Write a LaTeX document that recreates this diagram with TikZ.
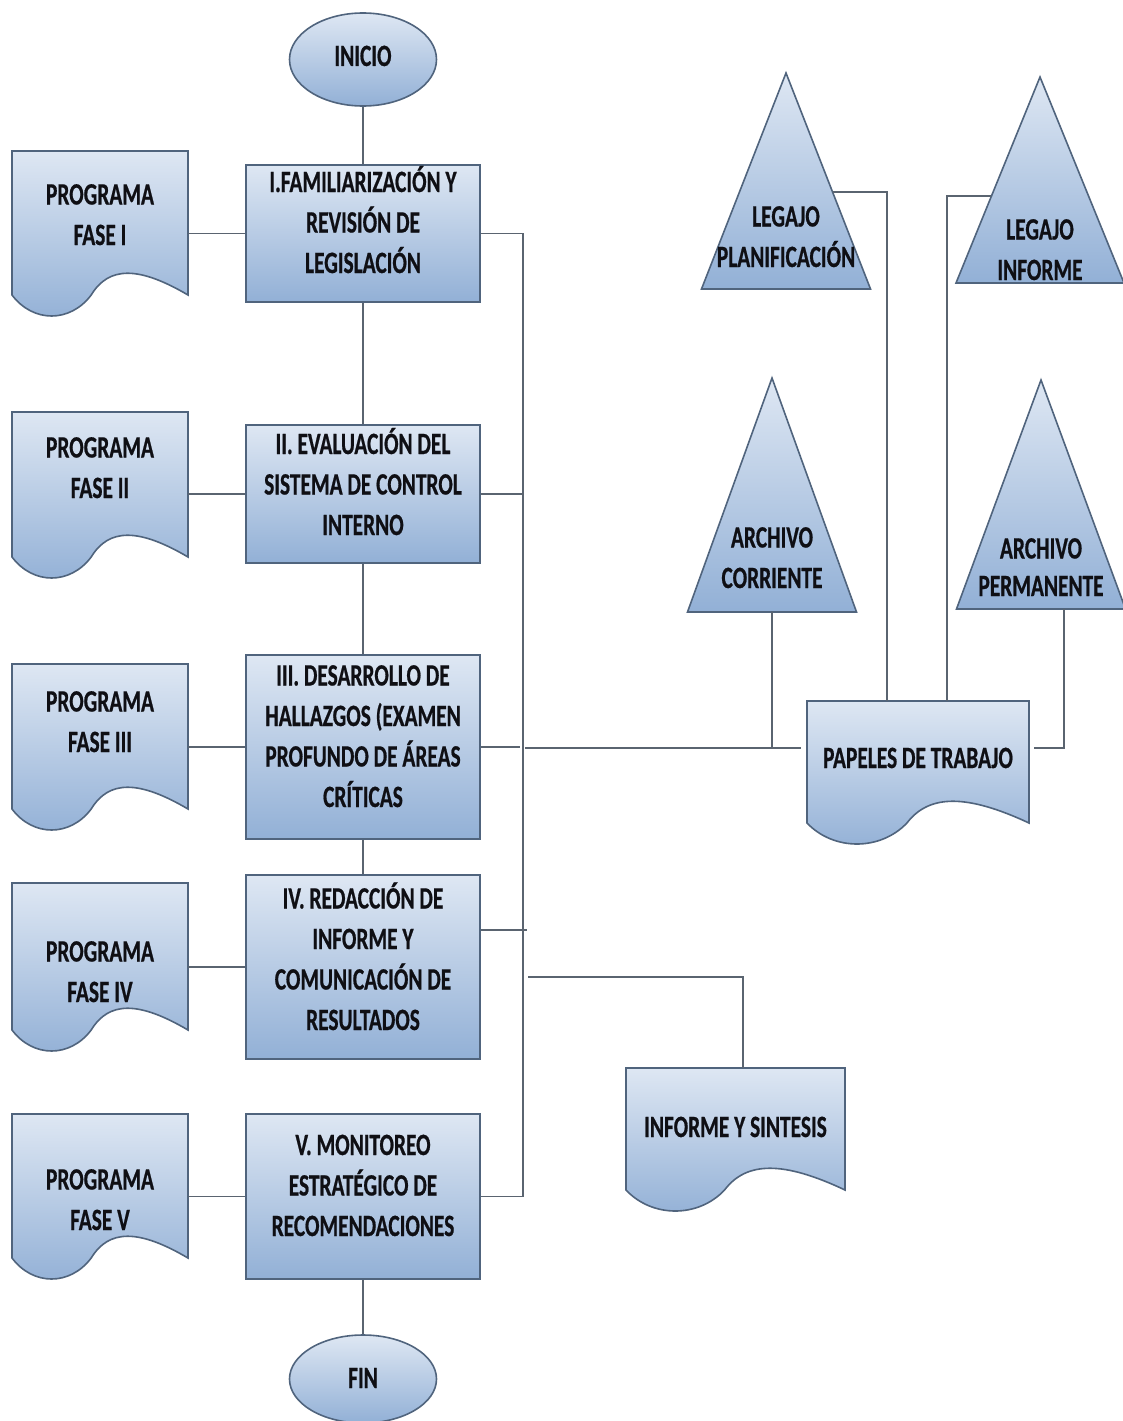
\documentclass[tikz,border=0pt]{standalone}
\usepackage{fontspec}
\newfontfamily\dfont{Carlito}[FakeStretch=0.69, FakeBold=0.6]
\usetikzlibrary{shapes.geometric,calc}
\definecolor{topc}{RGB}{222,231,243}
\definecolor{botc}{RGB}{146,176,214}
\definecolor{bordc}{RGB}{80,100,125}
\definecolor{linec}{RGB}{90,100,112}
\definecolor{txtc}{RGB}{15,15,20}
\newcommand\lns[1]{\begin{tabular}[b]{@{}c@{}}#1\end{tabular}}
\newcommand\docshape[7]{%
  \path[blueshade] (#2,-#3) -- (#4,-#3) -- (#4,-#5)
    .. controls ({#2+0.72*(#4-#2)},{-#5+29}) and ({#2+0.55*(#4-#2)},{-#5+29}) .. ({#2+0.45*(#4-#2)},-#5)
    .. controls ({#2+0.33*(#4-#2)},{-#5-28}) and ({#2+0.12*(#4-#2)},{-#5-28}) .. (#2,-#5) -- cycle;
  \node[anchor=north west, minimum width={#4-#2}, minimum height={#5-#3}, inner sep=0pt] (#1) at (#2,-#3) {};
  \node[txt, anchor=base] (#1t) at ({(#2+#4)/2},-#6) {\lns{#7}};
}
\newcommand\trishape[7]{%
  \path[blueshade] (#2,-#3) -- ({#2+#4},-#5) -- ({#2-#4},-#5) -- cycle;
  \coordinate (#1) at (#2,-#5);
  \node[txt, anchor=base] (#1t) at (#2,-#6) {\lns{#7}};
}
\tikzset{
  x=1pt, y=1pt,
  blueshade/.style={top color=topc, bottom color=botc, draw=bordc, line width=1.6pt},
  procbox/.style={blueshade, rectangle, minimum width=234pt, inner sep=0pt},
  term/.style={blueshade, ellipse, minimum width=147pt, inner sep=0pt},
  txt/.style={font=\dfont\bfseries\fontsize{31}{40.5}\selectfont, text=txtc, inner sep=0pt},
  conn/.style={draw=linec, line width=1.6pt},
}
\begin{document}
\begin{tikzpicture}
\useasboundingbox (0,0) rectangle (1123,-1421);
\fill[white] (0,0) rectangle (1123,-1421);

% terminals
\node[term, minimum height=93pt] (ini) at (363,-59.5) {};
\node[txt, anchor=base] (init) at (363,-66) {INICIO};
\node[term, minimum height=88pt] (fin) at (363,-1379) {};
\node[txt, anchor=base] (fint) at (363,-1388) {FIN};

% process boxes
\node[procbox, minimum height=137pt] (b1) at (363,-233.5) {};
\node[txt, anchor=base] (b1t) at (363,-273) {\lns{I.FAMILIARIZACIÓN Y\\REVISIÓN DE\\LEGISLACIÓN}};
\node[procbox, minimum height=138pt] (b2) at (363,-494) {};
\node[txt, anchor=base] (b2t) at (363,-535) {\lns{II. EVALUACIÓN DEL\\SISTEMA DE CONTROL\\INTERNO}};
\node[procbox, minimum height=184pt] (b3) at (363,-747) {};
\node[txt, anchor=base] (b3t) at (363,-807) {\lns{III. DESARROLLO DE\\HALLAZGOS (EXAMEN\\PROFUNDO DE ÁREAS\\CRÍTICAS}};
\node[procbox, minimum height=184pt] (b4) at (363,-967) {};
\node[txt, anchor=base] (b4t) at (363,-1030) {\lns{IV. REDACCIÓN DE\\INFORME Y\\COMUNICACIÓN DE\\RESULTADOS}};
\node[procbox, minimum height=165pt] (b5) at (363,-1196.5) {};
\node[txt, anchor=base] (b5t) at (363,-1236) {\lns{V. MONITOREO\\ESTRATÉGICO DE\\RECOMENDACIONES}};

% program documents
\docshape{d1}{12}{151}{188}{295}{245}{PROGRAMA\\FASE I}
\docshape{d2}{12}{412}{188}{557}{498}{PROGRAMA\\FASE II}
\docshape{d3}{12}{664}{188}{809}{752}{PROGRAMA\\FASE III}
\docshape{d4}{12}{883}{188}{1030}{1002}{PROGRAMA\\FASE IV}
\docshape{d5}{12}{1114}{188}{1258}{1230}{PROGRAMA\\FASE V}

% right side documents
\docshape{pap}{807}{701}{1029}{823}{768}{PAPELES DE TRABAJO}
\docshape{inf}{626}{1068}{845}{1190}{1137}{INFORME Y SINTESIS}

% triangles
\trishape{lp}{786}{73}{84.5}{289}{267}{LEGAJO\\PLANIFICACIÓN}
\trishape{li}{1040}{77}{84}{283}{280}{LEGAJO\\INFORME}
\trishape{ac}{772}{378}{84.5}{612}{588}{ARCHIVO\\CORRIENTE}
\trishape{ap}{1041}{380}{84.5}{609}{596}{ARCHIVO\\[-3pt]PERMANENTE}

% coordinates
\coordinate (busTop) at (523,-233.5);
\coordinate (busBot) at (523,-1196.5);
\coordinate (j3) at (523,-748);
\coordinate (b4r) at (527,-930);
\coordinate (inf1) at (528,-977);
\coordinate (inf2) at (743,-977);
\coordinate (apb) at (1064,-609);
\coordinate (lpr) at (833,-192);
\coordinate (lpx) at (887,-192);
\coordinate (lil) at (991,-196);
\coordinate (lix) at (947,-196);

% main flow
\draw[conn] (ini.south) -- (b1.north);
\draw[conn] (b1.south) -- (b2.north);
\draw[conn] (b2.south) -- (b3.north);
\draw[conn] (b3.south) -- (b4.north);
\draw[conn] (b5.south) -- (fin.north);

% programs to phases
\draw[conn] (d1.east |- b1.west) -- (b1.west);
\draw[conn] (d2.east |- b2.west) -- (b2.west);
\draw[conn] (d3.east |- b3.west) -- (b3.west);
\draw[conn] (d4.east |- b4.west) -- (b4.west);
\draw[conn] (d5.east |- b5.west) -- (b5.west);

% right bus
\draw[conn] (b1.east) -- (busTop) -- (busBot) -- (b5.east);
\draw[conn] (b2.east) -- (b2.east -| busTop);
\draw[conn, shorten >=3pt] (b3.east) -- (b3.east -| busTop);
\draw[conn] (b4r -| b4.east) -- (b4r);

% to papeles de trabajo
\draw[conn, shorten >=6pt, shorten <=2pt] (j3) -- (pap.west |- j3);
\draw[conn] (ac) -- (ac |- j3);
\draw[conn, shorten >=5pt] (apb) -- (apb |- j3) -- (pap.east |- j3);
\draw[conn] (lpr) -- (lpx) -- (lpx |- pap.north);
\draw[conn] (lil) -- (lix) -- (lix |- pap.north);

% to informe y sintesis
\draw[conn] (inf1) -- (inf2) -- (inf2 |- inf.north);
\end{tikzpicture}
\end{document}
